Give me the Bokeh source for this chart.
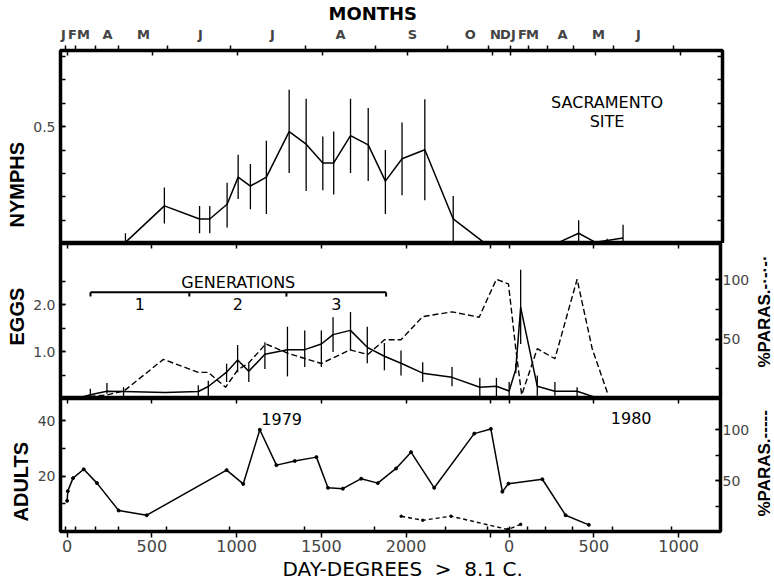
from bokeh.core.properties import value
from bokeh.embed import file_html
from bokeh.layouts import column, row
from bokeh.models import FixedTicker, Label, LinearAxis, NumeralTickFormatter, Range1d, Title
from bokeh.plotting import figure
from bokeh.resources import INLINE

# Day-degrees (> 8.1 C) accumulated from 1 Jan 1979; the 1980 season starts at YEAR_1980.
YEAR_1980 = 2608

# ---------------- axis ticks ----------------
dd_ticks_1979 = [0, 500, 1000, 1500, 2000, 2500]
dd_labels_1979 = ["0", "500", "1000", "1500", "2000", ""]
dd_ticks_1980 = [0, 500, 1000]
dd_labels_1980 = ["0", "500", "1000"]

month_letters = ["J", "F", "M", "A", "M", "J", "J", "A", "S", "O", "N", "D",
                 "J", "F", "M", "A", "M", "J"]
month_letter_dd = [-22, 31, 96, 237, 449, 784, 1208, 1608, 2031, 2372, 2519, 2578,
                   2625, 2678, 2737, 2914, 3125, 3361]
month_start_dd = [-10, 49, 166, 304, 588, 961, 1402, 1814, 2235, 2480,
                  2608, 2715, 2824, 2980, 3215, 3568]

# ---------------- nymphs per sample (mean and range) ----------------
nymph_dd = [343, 572, 779, 839, 941, 1006, 1078, 1172, 1306, 1406, 1504, 1568,
            1667, 1771, 1872, 1970, 2104, 2271, 2451, 2892, 3009, 3108, 3176, 3270]
nymph_mean = [0.005, 0.161, 0.105, 0.105, 0.168, 0.284, 0.246, 0.284, 0.479, 0.425, 0.345, 0.345,
              0.462, 0.422, 0.267, 0.363, 0.401, 0.105, 0.005, 0.005, 0.044, 0.005, 0.013, 0.024]
nymph_lo = [0.005, 0.086, 0.044, 0.044, 0.069, 0.190, 0.147, 0.126, 0.302, 0.225, 0.228, 0.210,
            0.302, 0.267, 0.126, 0.206, 0.185, 0.0, 0.005, 0.005, 0.0, 0.005, 0.005, 0.0]
nymph_hi = [0.044, 0.240, 0.161, 0.161, 0.260, 0.380, 0.340, 0.440, 0.658, 0.620, 0.458, 0.479,
            0.620, 0.580, 0.400, 0.518, 0.617, 0.203, 0.005, 0.005, 0.100, 0.005, 0.020, 0.080]

# ---------------- eggs per sample (mean and range) ----------------
egg_dd = [79, 137, 235, 333, 578, 774, 833, 941, 1006, 1072, 1167, 1300, 1402, 1500, 1569,
          1672, 1771, 1872, 1970, 2098, 2271, 2435, 2533, 2608, 2647, 2676, 2774, 2878, 3009,
          3118, 3294]
egg_mean = [0.02, 0.08, 0.155, 0.15, 0.13, 0.15, 0.255, 0.56, 0.82, 0.58, 0.94, 1.04, 1.04,
            1.16, 1.36, 1.45, 1.09, 0.90, 0.75, 0.54, 0.45, 0.24, 0.26, 0.16, 0.62, 1.94, 0.26,
            0.155, 0.155, 0.02, 0.02]
egg_lo = [0.02, 0.01, 0.10, 0.03, 0.13, 0.01, 0.0, 0.35, 0.56, 0.35, 0.63, 0.47, 0.67, 0.67,
          0.99, 1.02, 0.75, 0.60, 0.49, 0.35, 0.26, 0.03, 0.03, 0.03, 0.54, 1.16, 0.06, 0.06,
          0.04, 0.02, 0.02]
egg_hi = [0.02, 0.21, 0.33, 0.24, 0.13, 0.28, 0.38, 0.74, 1.14, 0.74, 1.20, 1.53, 1.45, 1.45,
          1.73, 1.84, 1.53, 1.18, 1.02, 0.77, 0.67, 0.44, 0.44, 0.35, 0.74, 2.74, 0.49, 0.35,
          0.24, 0.02, 0.02]

# percent of eggs parasitized
egg_para_dd = [79, 235, 337, 568, 774, 833, 935, 1006, 1072, 1172, 1304, 1500, 1670, 1774,
               1872, 1970, 2098, 2271, 2431, 2533, 2604, 2647, 2682, 2774, 2878, 3009, 3098, 3192]
egg_para = [1, 3, 6.5, 33, 22, 22, 9.5, 24, 30, 46, 38, 29.5, 41, 37,
            49.5, 49.5, 69, 73, 68.5, 100.5, 96.5, 42, 3, 42, 33.5, 100.5, 42, 3]

# generation boundaries
gen_bounds = [138, 721, 1294, 1882]
gen_names = ["1", "2", "3"]

# ---------------- adults per sample ----------------
adult_dd = [0, 4, 35, 98, 176, 304, 470, 941, 1039, 1137, 1235, 1343, 1471, 1539, 1627, 1735,
            1833, 1941, 2029, 2166, 2402, 2500, 2568, 2604, 2804, 2941, 3078]
adult_val = [11.1, 14.6, 19.3, 22.5, 17.5, 7.6, 5.9, 22.2, 17.2, 36.8, 24.0, 25.5, 26.9, 15.8,
             15.5, 19.1, 17.5, 22.8, 28.7, 15.8, 35.4, 37.1, 14.4, 17.3, 18.9, 5.9, 2.4]

# percent of adults parasitized
adult_para_dd = [1971, 2098, 2265, 2600, 2676]
adult_para = [15, 11, 15, 2, 7]

# ---------------- styling ----------------
TEXT_FONT = "DejaVu Sans"
LABEL_FONT = "Liberation Sans"
X_START, X_END = -39, 3855
x_range = Range1d(X_START, X_END)
STRIP_W = 22          # width of the strip holding the %PARAS. captions

dd_tick_pos = dd_ticks_1979 + [YEAR_1980 + t for t in dd_ticks_1980]
dd_tick_text = dd_labels_1979 + dd_labels_1980


def make_panel(height, y_end, top=0, bottom=0, right=52, width=774):
    p = figure(width=width, height=height, x_range=x_range, y_range=Range1d(0, y_end),
               output_backend="svg", toolbar_location=None, x_axis_location=None,
               y_axis_location="left", min_border_left=60, min_border_right=right,
               min_border_top=top, min_border_bottom=bottom)
    p.grid.visible = False
    p.outline_line_color = "black"
    p.outline_line_width = 3.5
    p.background_fill_color = "white"
    p.border_fill_color = "white"
    return p


def style_value_axis(ax, major, minor, fmt=None, standoff=5):
    ax.ticker = FixedTicker(ticks=major, minor_ticks=minor)
    if fmt is not None:
        ax.formatter = NumeralTickFormatter(format=fmt)
    ax.axis_line_color = None
    ax.major_tick_in = 5
    ax.major_tick_out = 0
    ax.minor_tick_in = 5
    ax.minor_tick_out = 0
    ax.major_tick_line_width = 1.5
    ax.minor_tick_line_width = 1.5
    ax.major_label_text_font = TEXT_FONT
    ax.major_label_text_font_size = "14px"
    ax.major_label_standoff = standoff


def edge_ticks(p, ticks, side, location):
    """Tick marks pointing into the frame from an edge, without labels."""
    ax = LinearAxis(fixed_location=location, ticker=FixedTicker(ticks=ticks),
                    axis_line_color=None, major_tick_in=0, major_tick_out=5,
                    major_tick_line_width=1.5, minor_tick_line_color=None,
                    major_label_overrides={t: "" for t in ticks})
    p.add_layout(ax, side)


def side_title(p, text, side, size, align="center", offset=0, standoff=0, bold=True,
               font=LABEL_FONT):
    p.add_layout(Title(text=text, align=align, offset=offset, standoff=standoff,
                       text_font=font, text_font_size=size,
                       text_font_style="bold" if bold else "normal",
                       text_color="black"), side)


def caption_strip(height, text, offset, bottom=0):
    """Narrow strip to the right of a panel carrying an upward-reading caption."""
    s = figure(width=STRIP_W, height=height, output_backend="svg", toolbar_location=None,
               x_axis_location=None, y_axis_location=None, min_border_left=0,
               min_border_right=0, min_border_top=0, min_border_bottom=bottom)
    s.grid.visible = False
    s.outline_line_color = None
    s.background_fill_color = "white"
    s.border_fill_color = "white"
    side_title(s, text, "left", "17px", align="left", offset=offset)
    return s


def text_label(p, text, x, y, size):
    p.add_layout(Label(x=x, y=y, text=text, text_align="center", text_baseline="middle",
                       text_font=TEXT_FONT, text_font_size=size, text_color="black"))


# ================= NYMPHS =================
NYMPH_TOP = 0.826
p1 = make_panel(243, NYMPH_TOP, top=48)
nymph_ticks = [0.1, 0.2, 0.3, 0.4, 0.5, 0.6, 0.7, 0.8]
style_value_axis(p1.left[0], [0.5], nymph_ticks, fmt="0.0")
edge_ticks(p1, nymph_ticks, "left", X_END)
edge_ticks(p1, dd_tick_pos, "below", NYMPH_TOP)

months = LinearAxis(ticker=FixedTicker(ticks=month_letter_dd, minor_ticks=month_start_dd),
                    major_label_overrides=dict(zip(month_letter_dd, month_letters)))
months.axis_line_color = None
months.major_tick_line_color = None
months.major_tick_in = 0
months.major_tick_out = 0
months.minor_tick_in = 0
months.minor_tick_out = 5
months.minor_tick_line_width = 1.5
months.major_label_text_font = TEXT_FONT
months.major_label_text_font_style = "bold"
months.major_label_text_font_size = "13px"
months.major_label_standoff = 4
p1.add_layout(months, "above")
side_title(p1, "MONTHS", "above", "18px", align="left", offset=268, font=TEXT_FONT)

p1.segment(nymph_dd, nymph_lo, nymph_dd, nymph_hi, line_color="black", line_width=1.3)
p1.line(nymph_dd, nymph_mean, line_color="black", line_width=1.5)

text_label(p1, "SACRAMENTO", 3176, 0.602, "16px")
text_label(p1, "SITE", 3176, 0.524, "16px")
side_title(p1, "NYMPHS", "left", "20px", align="left", offset=16, standoff=5)

# ================= EGGS =================
EGG_TOP = 3.30
p2 = make_panel(155, EGG_TOP, right=30, width=774 - STRIP_W)
p2.extra_y_ranges = {"para": Range1d(0, 130.6)}
style_value_axis(p2.left[0], [1.0, 2.0], [0.5, 1.0, 1.5, 2.0, 2.5], fmt="0.0")
para2 = LinearAxis(y_range_name="para")
style_value_axis(para2, [50, 100], [25, 50, 75, 100], standoff=2)
p2.add_layout(para2, "right")
edge_ticks(p2, dd_tick_pos, "below", EGG_TOP)

p2.segment(egg_dd, egg_lo, egg_dd, egg_hi, line_color="black", line_width=1.3)
p2.line(egg_dd, egg_mean, line_color="black", line_width=1.5)
p2.line(egg_para_dd, egg_para, y_range_name="para", line_color="black",
        line_width=1.4, line_dash="6 3")

# generations bar
GEN_Y, GEN_TICK = 2.26, 2.17
p2.segment([gen_bounds[0]], [GEN_Y], [gen_bounds[-1]], [GEN_Y], line_color="black", line_width=2)
p2.segment(gen_bounds, [GEN_Y] * len(gen_bounds), gen_bounds, [GEN_TICK] * len(gen_bounds),
           line_color="black", line_width=2)
gen_mid = [(a + b) / 2 for a, b in zip(gen_bounds[:-1], gen_bounds[1:])]
p2.text(gen_mid, [2.02] * len(gen_mid), text=gen_names, text_align="center",
        text_baseline="middle", text_font=value(TEXT_FONT), text_font_size="16px",
        text_color="black")
text_label(p2, "GENERATIONS", (gen_bounds[0] + gen_bounds[-1]) / 2, 2.46, "16px")
side_title(p2, "EGGS", "left", "20px", align="left", offset=53, standoff=5)
s2 = caption_strip(155, "%PARAS.-·-·-·", 31)

# ================= ADULTS =================
ADULT_TOP = 48.1
p3 = make_panel(182, ADULT_TOP, bottom=45, right=30, width=774 - STRIP_W)
p3.extra_y_ranges = {"para": Range1d(0, 130.5)}
style_value_axis(p3.left[0], [20, 40], [10, 20, 30, 40])
para3 = LinearAxis(y_range_name="para")
style_value_axis(para3, [50, 100], [25, 50, 75, 100], standoff=2)
p3.add_layout(para3, "right")
edge_ticks(p3, dd_tick_pos, "below", ADULT_TOP)

dd_axis = LinearAxis(ticker=FixedTicker(ticks=dd_tick_pos, minor_ticks=month_start_dd),
                     major_label_overrides=dict(zip(dd_tick_pos, dd_tick_text)))
dd_axis.axis_line_color = None
dd_axis.major_tick_in = 0
dd_axis.major_tick_out = 6
dd_axis.minor_tick_in = 5
dd_axis.minor_tick_out = 0
dd_axis.major_tick_line_width = 1.5
dd_axis.minor_tick_line_width = 1.5
dd_axis.major_label_text_font = TEXT_FONT
dd_axis.major_label_text_font_size = "16px"
dd_axis.major_label_standoff = 2
p3.add_layout(dd_axis, "below")
side_title(p3, "DAY-DEGREES\u00a0\u00a0>\u00a0\u00a08.1\u00a0C.", "below", "20px",
           align="left", offset=222, bold=False, font=TEXT_FONT)

p3.line(adult_dd, adult_val, line_color="black", line_width=1.5)
p3.scatter(adult_dd, adult_val, size=3, color="black")
p3.line(adult_para_dd, adult_para, y_range_name="para", line_color="black",
        line_width=1.4, line_dash="4 3")
p3.scatter(adult_para_dd, adult_para, y_range_name="para", size=2.5, color="black")

text_label(p3, "1979", 1266, 40.7, "16px")
text_label(p3, "1980", 3328, 40.9, "16px")
side_title(p3, "ADULTS", "left", "20px", align="left", offset=10, standoff=5)
s3 = caption_strip(182, "%PARAS.-----", 15, bottom=45)

layout = column(p1, row(p2, s2), row(p3, s3))
open("out.html", "w").write(file_html(layout, INLINE))
